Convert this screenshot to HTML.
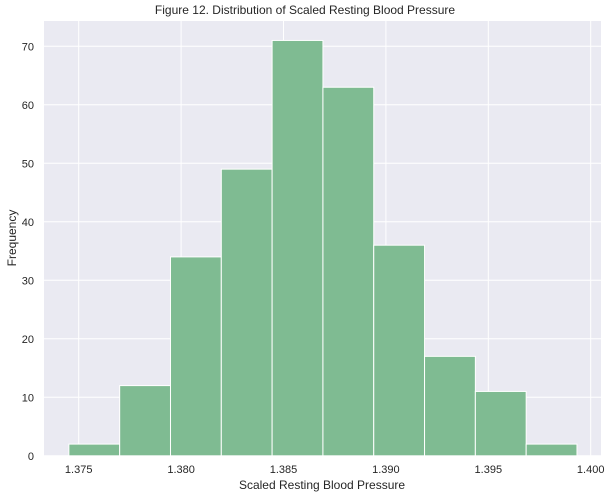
<!DOCTYPE html>
<html><head><meta charset="utf-8"><style>
body{margin:0;background:#fff;}
svg text{font-family:"Liberation Sans",Arial,sans-serif;fill:#262626;}
</style></head><body>
<svg width="611" height="496">
<rect x="44" y="21" width="557" height="434.8" fill="#eaeaf2"/>
<g id="grid"></g><g id="bars"></g><g id="ticks"></g>
<text x="305" y="14" text-anchor="middle" font-size="12">Figure 12. Distribution of Scaled Resting Blood Pressure</text>
<text x="322" y="489" text-anchor="middle" font-size="12">Scaled Resting Blood Pressure</text>
<text x="16" y="238" text-anchor="middle" font-size="12" transform="rotate(-90 16 238)">Frequency</text>
</svg>
<script>
const counts=[2,12,34,49,71,63,36,17,11,2];
const binStart=1.37452;
const binWidth=0.002481;
const xTicks=[1.375,1.380,1.385,1.390,1.395,1.400];
const xTickLabels=["1.375","1.380","1.385","1.390","1.395","1.400"];
const yTicks=[0,10,20,30,40,50,60,70];
const X=v=>78.7+(v-1.375)/0.005*102.4;
const Y=v=>455.8-5.85*v;
const NS="http://www.w3.org/2000/svg";
const g=document.getElementById('grid'),b=document.getElementById('bars'),t=document.getElementById('ticks');
function mk(tag,at,p){const e=document.createElementNS(NS,tag);for(const k in at)e.setAttribute(k,at[k]);p.appendChild(e);return e;}
xTicks.forEach((v,i)=>{
 const l=mk('line',{x1:X(v),x2:X(v),y1:21,y2:455.8,stroke:'#fff','stroke-width':1},g);
 
 
 const tx=mk('text',{x:X(v),y:473,'text-anchor':'middle','font-size':11},t);
 tx.textContent=xTickLabels[i];
 
 
});
yTicks.forEach(v=>{
 const l=mk('line',{x1:44,x2:601,y1:Y(v),y2:Y(v),stroke:'#fff','stroke-width':1},g);
 
 
 const tx=mk('text',{x:34,y:Y(v)+4,'text-anchor':'end','font-size':11},t);
 tx.textContent=v;
 
 
});
counts.forEach((c,i)=>{
 const x0=X(binStart+i*binWidth),x1=X(binStart+(i+1)*binWidth);
 const r=mk('rect',{x:x0,y:Y(c),width:x1-x0,height:Y(0)-Y(c),fill:'#7fbb92',stroke:'#fff','stroke-width':1},b);
 
 
});
</script>
</body></html>
